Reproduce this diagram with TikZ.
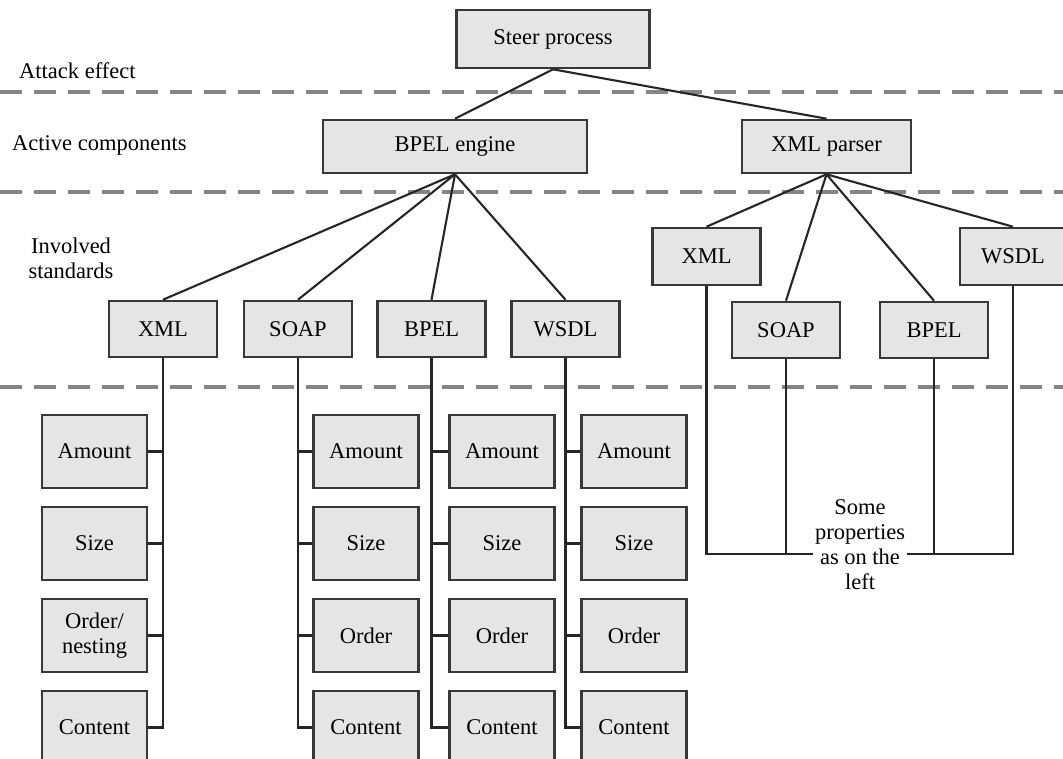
\documentclass[tikz,border=0pt]{standalone}
\usepackage{fontspec}
\setmainfont{Liberation Serif}
\begin{document}
\begin{tikzpicture}[x=1pt,y=-1pt,
  every node/.style={font=\fontsize{22.5}{25}\selectfont},
  box/.style={draw=black!78, fill=black!10, line width=2.6pt, inner sep=0pt, align=center},
  topbox/.style={box, minimum height=53pt},
  stdbox/.style={box, minimum width=108pt, minimum height=56pt},
  prop/.style={box, minimum width=105pt, minimum height=73pt},
  link/.style={draw=black!85, line width=2.1pt},
  layer/.style={draw=black!48, line width=3.6pt, dash pattern=on 22pt off 12pt},
  lvl/.style={inner sep=0pt, anchor=base west}]
\useasboundingbox (0,0) rectangle (1063,758);
\clip (0,0) rectangle (1063,758);
\fill[white] (0,0) rectangle (1063,758);

% layer separators
\draw[layer] (0,92) -- (1063,92);
\draw[layer] (0,192) -- (1063,192);
\draw[layer] (0,387) -- (1063,387);

% layer captions
\node[lvl] (lab1) at (19,78) {Attack effect};
\node[lvl] (lab2) at (12,150) {Active components};
\node[inner sep=0pt, align=center] (lab3) at (71,258) {Involved\\standards};

% attack effect and active components
\node[box, minimum width=193pt, minimum height=58pt] (steer) at (553,39) {Steer process};
\node[topbox, minimum width=264pt] (engine) at (455,146.5) {BPEL engine};
\node[topbox, minimum width=169pt] (parser) at (826.5,146.5) {XML parser};

% standards used by the BPEL engine
\node[stdbox] (lxml)  at (163,329)   {XML};
\node[stdbox] (lsoap) at (298,329)   {SOAP};
\node[stdbox] (lbpel) at (431.5,329) {BPEL};
\node[stdbox] (lwsdl) at (565.5,329) {WSDL};

% standards used by the XML parser
\node[stdbox, minimum height=57pt] (rxml) at (706.5,256.5) {XML};
\node[stdbox, minimum height=57pt, minimum width=106pt] (rwsdl) at (1013,256.5) {WSDL};
\node[stdbox] (rsoap) at (786,330) {SOAP};
\node[stdbox] (rbpel) at (934,330) {BPEL};

% properties
\node[prop] (x-a) at (94.5,451.5) {Amount};
\node[prop] (x-s) at (94.5,543.5) {Size};
\node[prop] (x-o) at (94.5,635.5) {Order/\\nesting};
\node[prop] (x-c) at (94.5,727.5) {Content};
\foreach \col/\cx in {s/366, b/502, w/634} {
  \node[prop] (\col-a) at (\cx,451.5) {Amount};
  \node[prop] (\col-s) at (\cx,543.5) {Size};
  \node[prop] (\col-o) at (\cx,635.5) {Order};
  \node[prop] (\col-c) at (\cx,727.5) {Content};
}

% tree links
\draw[link] (steer.south) -- (engine.north);
\draw[link] (steer.south) -- (parser.north);
\foreach \t in {lxml, lsoap, lbpel, lwsdl}
  \draw[link] (engine.south) -- (\t.north);
\foreach \t in {rxml, rsoap, rbpel, rwsdl}
  \draw[link] (parser.south) -- (\t.north);

% property buses
\draw[link] (lxml.south) |- (x-c.east);
\foreach \r in {a, s, o}
  \draw[link] (x-\r.east) -- (x-\r.east -| lxml.south);
\foreach \col/\std in {s/lsoap, b/lbpel, w/lwsdl} {
  \draw[link] (\std.south) |- (\col-c.west);
  \foreach \r in {a, s, o}
    \draw[link] (\col-\r.west) -- (\col-\r.west -| \std.south);
}

% shared properties of the parser's standards
\coordinate (rbase) at (860,554);
\draw[link] (rxml.south) |- (rbase) -| (rwsdl.south);
\draw[link] (rsoap.south) -- (rsoap.south |- rbase);
\draw[link] (rbpel.south) -- (rbpel.south |- rbase);
\node[fill=white, inner sep=2pt, align=center] (note) at (860,545) {Some\\properties\\as on the\\left};
\end{tikzpicture}
\end{document}
